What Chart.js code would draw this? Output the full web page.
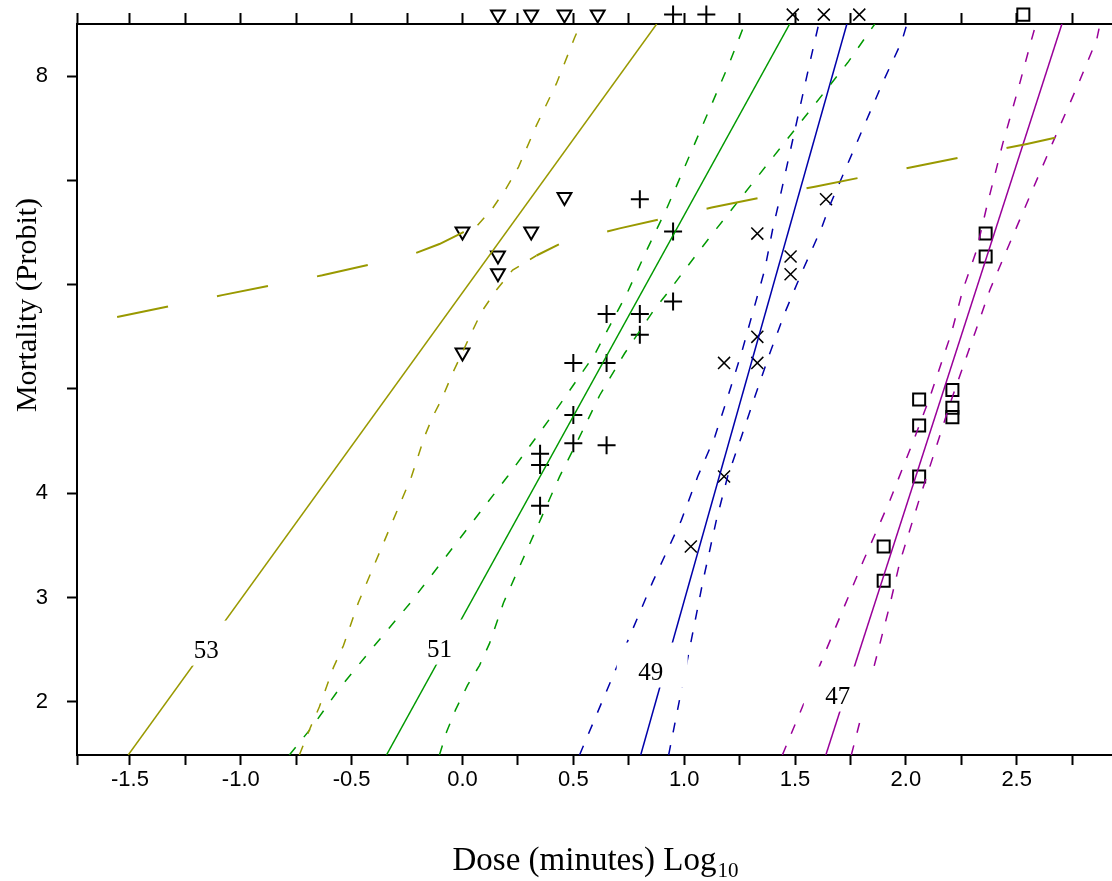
<!DOCTYPE html>
<html>
<head>
<meta charset="utf-8">
<title>Probit mortality vs log dose</title>
<script src="https://cdn.jsdelivr.net/npm/chart.js@4.4.1/dist/chart.umd.min.js"></script>
<style>
  html, body { margin: 0; padding: 0; background: #fff; }
  canvas { display: block; }
</style>
</head>
<body>
<canvas id="probitChart" width="1112" height="881"></canvas>
<script>
// axis ranges (log10 dose, probit)
const XMIN = -1.739, XMAX = 2.93;
const YMIN = 1.49, YMAX = 8.5;
const X_TICKS = [-1.5, -1.25, -1.0, -0.75, -0.5, -0.25, 0, 0.25, 0.5, 0.75, 1.0, 1.25, 1.5, 1.75, 2.0, 2.25, 2.5, 2.75];
const X_LABELED = [-1.5, -1.0, -0.5, 0, 0.5, 1.0, 1.5, 2.0, 2.5];
const Y_TICKS = [2, 3, 4, 5, 6, 7, 8];
const Y_LABELED = [2, 3, 4, 8];

// 100% and 0% kill plotted in the margins
const ALL_DEAD = 8.59, NONE_DEAD = 1.38;

// observed mortality [log dose, probit]
const OBS_53 = [[0.46, 6.84], [0.0, 6.51], [0.31, 6.51], [0.16, 6.28], [0.16, 6.11], [0.0, 5.35],
  [0.16, ALL_DEAD], [0.31, ALL_DEAD], [0.46, ALL_DEAD], [0.61, ALL_DEAD]];
const OBS_51 = [[0.80, 6.82], [0.95, 6.51], [0.95, 5.84], [0.65, 5.72], [0.80, 5.72], [0.80, 5.52],
  [0.50, 5.25], [0.65, 5.25], [0.50, 4.75], [0.50, 4.48], [0.65, 4.46], [0.35, 4.38], [0.35, 4.27],
  [0.35, 3.88], [0.95, ALL_DEAD], [1.10, ALL_DEAD]];
const OBS_49 = [[1.64, 6.82], [1.33, 6.49], [1.48, 6.27], [1.48, 6.10], [1.33, 5.50], [1.18, 5.25],
  [1.33, 5.25], [1.18, 4.16], [1.03, 3.49], [1.49, ALL_DEAD], [1.63, ALL_DEAD], [1.79, ALL_DEAD],
  [0.88, NONE_DEAD], [1.03, NONE_DEAD], [1.19, NONE_DEAD]];
const OBS_47 = [[2.36, 6.49], [2.36, 6.27], [2.21, 4.99], [2.21, 4.82], [2.21, 4.73], [2.06, 4.90],
  [2.06, 4.65], [2.06, 4.16], [1.90, 3.49], [1.90, 3.16], [2.53, ALL_DEAD], [1.75, NONE_DEAD], [1.90, NONE_DEAD]];

// fitted probit lines
const FIT_53 = [[-1.508, 1.49], [0.876, 8.50]];
const FIT_51 = [[-0.343, 1.49], [1.476, 8.50]];
const FIT_49 = [[0.804, 1.49], [1.734, 8.50]];
const FIT_47 = [[1.639, 1.49], [2.704, 8.50]];

// fiducial limits; the 53 limits are two open branches
const LIM_53_UPPER_FLAT = [[-1.558, 5.69], [-1.084, 5.90], [-0.632, 6.09], [-0.239, 6.28], [-0.104, 6.39], [0.0, 6.50], [0.068, 6.57]];
const LIM_53_UPPER_STEEP = [[0.068, 6.57], [0.135, 6.73], [0.199, 6.93], [0.253, 7.13], [0.334, 7.53], [0.424, 7.93], [0.506, 8.37], [0.533, 8.50]];
const LIM_53_LOWER_STEEP = [[-0.736, 1.49], [-0.691, 1.73], [-0.646, 1.95], [-0.582, 2.33], [-0.537, 2.54], [-0.470, 2.95],
  [-0.230, 4.16], [-0.172, 4.54], [-0.135, 4.73], [-0.090, 4.92], [-0.045, 5.15], [0.041, 5.54], [0.086, 5.74],
  [0.153, 5.95], [0.226, 6.14], [0.334, 6.28]];
const LIM_53_LOWER_FLAT = [[0.334, 6.28], [0.447, 6.40], [0.709, 6.54], [1.124, 6.74], [1.589, 6.94], [2.059, 7.14], [2.546, 7.35], [2.673, 7.41]];

const LIM_51_LEFT = [[-0.781, 1.49], [-0.682, 1.75], [-0.551, 2.14], [-0.397, 2.54], [-0.235, 2.95], [0.203, 4.16],
  [0.406, 4.75], [0.596, 5.33], [0.745, 5.93], [0.831, 6.33], [0.921, 6.73], [0.966, 6.95], [1.205, 8.13], [1.273, 8.50]];
const LIM_51_RIGHT = [[-0.104, 1.49], [-0.072, 1.71], [-0.032, 1.92], [0.023, 2.16], [0.077, 2.35], [0.122, 2.56],
  [0.185, 2.95], [0.438, 4.16], [0.528, 4.54], [0.619, 4.94], [0.731, 5.34], [0.858, 5.74], [0.935, 5.95],
  [1.002, 6.14], [1.070, 6.33], [1.147, 6.54], [1.738, 8.13], [1.860, 8.50]];

const LIM_49_LEFT = [[0.528, 1.49], [0.858, 3.15], [0.987, 3.74], [1.061, 4.16], [1.138, 4.54], [1.196, 4.92],
  [1.258, 5.34], [1.309, 5.73], [1.363, 6.14], [1.400, 6.54], [1.422, 6.74], [1.567, 8.13], [1.607, 8.50]];
const LIM_49_RIGHT = [[0.930, 1.49], [1.084, 3.15], [1.145, 3.74], [1.196, 4.16], [1.258, 4.54], [1.318, 4.92],
  [1.386, 5.34], [1.454, 5.73], [1.535, 6.14], [1.619, 6.54], [1.657, 6.76], [1.896, 7.94], [1.981, 8.33], [2.005, 8.50]];

const LIM_47_LEFT = [[1.443, 1.49], [1.806, 3.34], [1.928, 3.93], [2.041, 4.54], [2.108, 4.92], [2.206, 5.54],
  [2.257, 5.95], [2.319, 6.33], [2.364, 6.74], [2.438, 7.36], [2.515, 7.94], [2.567, 8.35], [2.587, 8.50]];
const LIM_47_RIGHT = [[1.754, 1.49], [1.928, 2.93], [1.973, 3.34], [2.059, 3.93], [2.206, 4.90], [2.312, 5.54],
  [2.379, 5.95], [2.455, 6.33], [2.662, 7.36], [2.781, 7.94], [2.861, 8.35], [2.876, 8.50]];

// line tags
const LINE_TAGS = ['53', '51', '49', '47'];
const TAG_X = [-1.156, -0.104, 0.849, 1.693];
const TAG_Y = [2.51, 2.52, 2.30, 2.07];

const OLIVE = '#999900', GREEN = '#009900', BLUE = '#0000aa', PURPLE = '#990099';
const SHORT_DASH = [10, 13], LONG_DASH = [52, 50];

const pts = arr => arr.map(([x, y]) => ({ x, y }));

function curve(points, color, dash, width, offset) {
  return {
    data: pts(points),
    showLine: true,
    borderColor: color,
    borderWidth: width,
    borderDash: dash || [],
    borderDashOffset: offset || 0,
    pointRadius: 0,
    pointHoverRadius: 0,
    fill: false,
    tension: 0
  };
}

function marks(points, style, radius, width, rotation) {
  return {
    data: pts(points),
    showLine: false,
    pointStyle: style,
    pointRadius: radius,
    pointHoverRadius: radius,
    pointBorderWidth: width,
    pointBorderColor: '#000',
    pointBackgroundColor: 'rgba(0,0,0,0)',
    pointRotation: rotation || 0,
    clip: false
  };
}

// white boxed numbers beside each fitted line
const lineTags = {
  id: 'lineTags',
  afterDatasetsDraw(chart) {
    const { ctx, scales: { x, y } } = chart;
    ctx.save();
    ctx.font = '25px "Liberation Serif"';
    ctx.textAlign = 'center';
    ctx.textBaseline = 'alphabetic';
    LINE_TAGS.forEach((t, i) => {
      const px = x.getPixelForValue(TAG_X[i]);
      const py = y.getPixelForValue(TAG_Y[i]);
      ctx.fillStyle = '#fff';
      ctx.fillRect(px - 34, py - 28, 71, 45);
      ctx.fillStyle = '#000';
      ctx.fillText(t, px, py + 9);
    });
    ctx.restore();
  }
};

// axis titles, with the subscript on Log10
const axisTitles = {
  id: 'axisTitles',
  afterDraw(chart) {
    const ctx = chart.ctx;
    ctx.save();
    ctx.fillStyle = '#000';

    ctx.font = '30px "Liberation Serif"';
    ctx.textAlign = 'center';
    ctx.textBaseline = 'middle';
    ctx.translate(28, 305);
    ctx.rotate(-Math.PI / 2);
    ctx.fillText('Mortality (Probit)', 0, 0);
    ctx.setTransform(1, 0, 0, 1, 0, 0);

    const main = 'Dose (minutes) Log', sub = '10';
    ctx.font = '33px "Liberation Serif"';
    const wMain = ctx.measureText(main).width;
    ctx.font = '21px "Liberation Serif"';
    const wSub = ctx.measureText(sub).width;
    const left = 595 - (wMain + wSub) / 2;
    ctx.textAlign = 'left';
    ctx.textBaseline = 'alphabetic';
    ctx.font = '33px "Liberation Serif"';
    ctx.fillText(main, left, 870);
    ctx.font = '21px "Liberation Serif"';
    ctx.fillText(sub, left + wMain + 1, 877);
    ctx.restore();
  }
};

const tickFont = { family: 'Liberation Sans', size: 22 };

// keep the plot edges where the axes are fitted, no label overhang padding
const noPad = s => { s.paddingLeft = 0; s.paddingRight = 0; s.paddingTop = 0; s.paddingBottom = 0; };

new Chart(document.getElementById('probitChart'), {
  type: 'scatter',
  data: {
    datasets: [
      curve(FIT_53, OLIVE, [], 1.5),
      curve(LIM_53_UPPER_FLAT, OLIVE, LONG_DASH, 2),
      curve(LIM_53_UPPER_STEEP, OLIVE, SHORT_DASH, 1.5),
      curve(LIM_53_LOWER_STEEP, OLIVE, SHORT_DASH, 1.5),
      curve(LIM_53_LOWER_FLAT, OLIVE, LONG_DASH, 2, 27),
      curve(FIT_51, GREEN, [], 1.5),
      curve(LIM_51_LEFT, GREEN, SHORT_DASH, 1.5),
      curve(LIM_51_RIGHT, GREEN, SHORT_DASH, 1.5),
      curve(FIT_49, BLUE, [], 1.5),
      curve(LIM_49_LEFT, BLUE, SHORT_DASH, 1.5),
      curve(LIM_49_RIGHT, BLUE, SHORT_DASH, 1.5),
      curve(FIT_47, PURPLE, [], 1.5),
      curve(LIM_47_LEFT, PURPLE, SHORT_DASH, 1.5),
      curve(LIM_47_RIGHT, PURPLE, SHORT_DASH, 1.5),
      marks(OBS_53, 'triangle', 8, 2, 180),
      marks(OBS_51, 'cross', 9, 2),
      marks(OBS_49, 'crossRot', 8.5, 1.5),
      marks(OBS_47, 'rect', 8.5, 2)
    ]
  },
  options: {
    responsive: false,
    animation: false,
    devicePixelRatio: 1,
    layout: { padding: 0, autoPadding: false },
    events: [],
    plugins: {
      legend: { display: false },
      tooltip: { enabled: false }
    },
    scales: {
      x: {
        type: 'linear',
        position: 'bottom',
        min: XMIN,
        max: XMAX,
        afterBuildTicks: s => { s.ticks = [XMIN, ...X_TICKS].map(v => ({ value: v })); },
        afterFit: s => { s.height = 126; noPad(s); },
        ticks: {
          autoSkip: false,
          maxRotation: 0,
          padding: 2,
          color: '#000',
          font: tickFont,
          callback: v => X_LABELED.includes(v) ? v.toFixed(1) : ''
        },
        grid: { drawOnChartArea: false, tickLength: 10, tickWidth: 2, tickColor: '#000' },
        border: { color: '#000', width: 2 }
      },
      x2: {
        type: 'linear',
        position: 'top',
        min: XMIN,
        max: XMAX,
        afterBuildTicks: s => { s.ticks = [XMIN, ...X_TICKS].map(v => ({ value: v })); },
        afterFit: s => { s.height = 24; noPad(s); },
        ticks: { display: false },
        grid: { drawOnChartArea: false, tickLength: 11, tickWidth: 2, tickColor: '#000' },
        border: { color: '#000', width: 2 }
      },
      y: {
        type: 'linear',
        position: 'left',
        min: YMIN,
        max: YMAX,
        afterBuildTicks: s => { s.ticks = Y_TICKS.map(v => ({ value: v })); },
        afterFit: s => { s.width = 77; noPad(s); },
        ticks: {
          padding: 19,
          color: '#000',
          font: tickFont,
          callback: v => Y_LABELED.includes(v) ? String(v) : ''
        },
        grid: { drawOnChartArea: false, tickLength: 10, tickWidth: 2, tickColor: '#000' },
        border: { color: '#000', width: 2 }
      }
    }
  },
  plugins: [lineTags, axisTitles]
});
</script>
</body>
</html>
